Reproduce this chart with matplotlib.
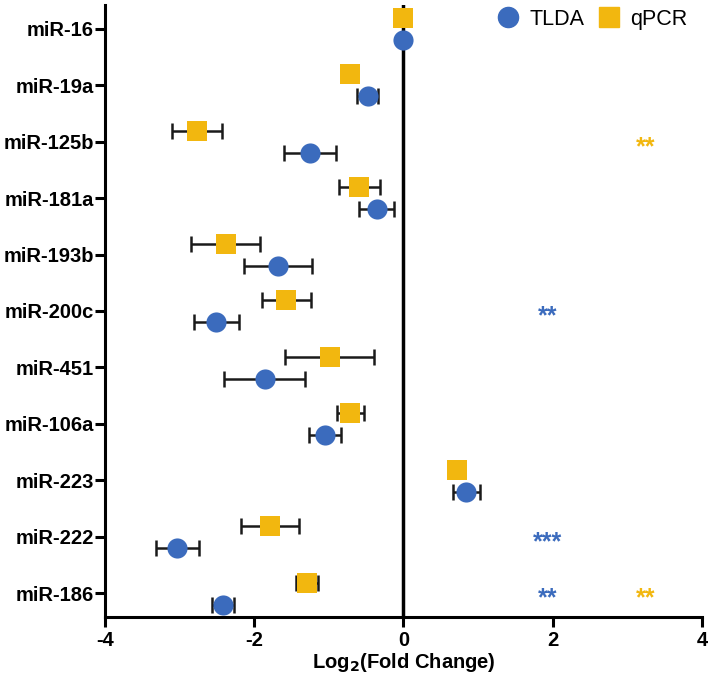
import matplotlib
matplotlib.use("Agg")
import matplotlib.pyplot as plt
from matplotlib.lines import Line2D

plt.rcParams['font.family'] = ['Liberation Sans', 'DejaVu Sans']

categories = ["miR-16", "miR-19a", "miR-125b", "miR-181a", "miR-193b", "miR-200c",
              "miR-451", "miR-106a", "miR-223", "miR-222", "miR-186"]
tlda = [0.0, -0.48, -1.25, -0.36, -1.68, -2.51, -1.86, -1.05, 0.84, -3.03, -2.42]
tlda_err = [0.0, 0.14, 0.35, 0.24, 0.45, 0.30, 0.54, 0.22, 0.18, 0.29, 0.15]
qpcr = [0.0, -0.72, -2.77, -0.59, -2.38, -1.57, -0.99, -0.71, 0.72, -1.79, -1.29]
qpcr_err = [0.0, 0.0, 0.335, 0.27, 0.46, 0.33, 0.60, 0.18, 0.0, 0.39, 0.15]

# significance annotations: (category, series, text)
sig_marks = [("miR-125b", "qPCR", "**"), ("miR-200c", "TLDA", "**"),
             ("miR-222", "TLDA", "***"), ("miR-186", "TLDA", "**"),
             ("miR-186", "qPCR", "**")]
sig_x = {"TLDA": 1.93, "qPCR": 3.24}

blue = "#3b6bbd"
gold = "#f2b70f"

fig = plt.figure(figsize=(7.09, 6.74), dpi=100)
ax = fig.add_axes([0.148, 0.0846, 0.842, 0.908])

ypos = list(range(len(categories)))
y_q = [y - 0.19 for y in ypos]
y_t = [y + 0.20 for y in ypos]

ax.errorbar(qpcr, y_q, xerr=qpcr_err, fmt='none', ecolor='#1a1a1a',
            elinewidth=1.8, capsize=6, capthick=1.8, zorder=2)
ax.errorbar(tlda, y_t, xerr=tlda_err, fmt='none', ecolor='#1a1a1a',
            elinewidth=1.8, capsize=6, capthick=1.8, zorder=2)
ax.plot(qpcr, y_q, 's', color=gold, markersize=14, markeredgewidth=0, zorder=3)
ax.plot(tlda, y_t, 'o', color=blue, markersize=14.5, markeredgewidth=0, zorder=3)

ax.axvline(0, color='black', linewidth=2.5, zorder=1)

for cat, ser, txt in sig_marks:
    ax.text(sig_x[ser], categories.index(cat) + 0.22, txt, color=blue if ser == "TLDA" else gold,
            ha='center', va='baseline', fontsize=18, fontweight='bold')

ax.set_xlim(-4, 4)
ax.set_ylim(10.42, -0.42)
ax.set_xticks([-4, -2, 0, 2, 4])
ax.set_xticklabels(["-4", "-2", "0", "2", "4"])
ax.set_yticks(ypos)
ax.set_yticklabels(categories)
for lab in ax.get_xticklabels() + ax.get_yticklabels():
    lab.set_fontweight('bold')
    lab.set_fontsize(14.5)
ax.set_xlabel("Log$_\\mathbf{2}$(Fold Change)", fontsize=14.5, fontweight='bold', labelpad=1)

for s in ['top', 'right']:
    ax.spines[s].set_visible(False)
for s in ['left', 'bottom']:
    ax.spines[s].set_linewidth(2.2)
ax.tick_params(axis='both', width=2.2, length=7, direction='out')
ax.tick_params(axis='y', pad=1)
ax.tick_params(axis='x', pad=3)

handles = [Line2D([], [], marker='o', color=blue, linestyle='none', markersize=14.5),
           Line2D([], [], marker='s', color=gold, linestyle='none', markersize=14)]
ax.legend(handles, ["TLDA", "qPCR"], loc='upper right', ncol=2, frameon=False,
          fontsize=15.5, handlelength=1.0, handletextpad=0.5, columnspacing=0.6,
          bbox_to_anchor=(0.99, 1.008), borderaxespad=0)

fig.savefig("out.png", dpi=100)
